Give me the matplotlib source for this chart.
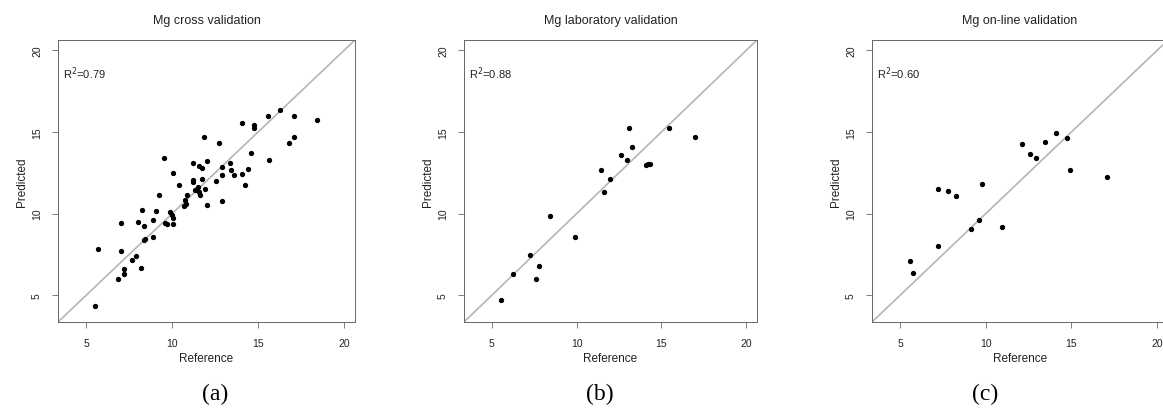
"""Mg validation: predicted vs reference scatter for three validation sets."""

import matplotlib.pyplot as plt

# (a) cross validation
cross_ref = [5.49, 5.68, 6.85, 7.18, 7.18, 7.05, 7.01, 7.69, 7.88, 8.2, 8.02, 8.22,
             8.37, 8.37, 8.41, 8.9, 8.9, 9.05, 9.23, 9.54, 9.58, 9.68, 9.87, 9.97,
             10.07, 10.07, 10.07, 10.4, 10.69, 10.75, 10.81, 10.85, 11.2, 11.24,
             11.24, 11.34, 11.43, 11.53, 11.59, 11.63, 11.59, 11.73, 11.73, 11.86,
             11.92, 12.02, 12.02, 12.54, 12.7, 12.89, 12.89, 12.89, 13.38, 13.42,
             13.58, 14.06, 14.06, 14.26, 14.4, 14.59, 14.75, 14.75, 15.58, 15.62,
             16.27, 16.79, 17.12, 17.12, 18.41]
cross_pred = [4.32, 7.86, 5.98, 6.28, 6.63, 7.72, 9.45, 7.16, 7.41, 6.69, 9.49, 10.25,
              9.23, 8.41, 8.47, 8.57, 9.64, 10.15, 11.17, 13.44, 9.45, 9.39, 10.09, 9.9,
              9.74, 9.39, 12.5, 11.74, 10.46, 10.82, 10.62, 11.13, 13.11, 12.09,
              11.95, 11.44, 11.54, 11.64, 11.34, 11.13, 12.91, 12.81, 12.15, 14.71,
              11.5, 13.21, 10.52, 12.01, 14.3, 12.87, 12.36, 10.76, 13.08, 12.66,
              12.36, 12.42, 15.57, 11.74, 12.76, 13.72, 15.43, 15.27, 16.0, 13.28,
              16.35, 14.3, 16.0, 14.67, 15.73]

# (b) laboratory validation
lab_ref = [5.55, 6.27, 7.24, 7.59, 7.77, 8.45, 9.93, 11.43, 11.59, 11.96, 12.62,
           12.95, 13.11, 13.28, 14.12, 14.22, 14.32, 15.47, 16.99]
lab_pred = [4.73, 6.29, 7.45, 6.02, 6.8, 9.87, 8.56, 12.67, 11.3, 12.14, 13.57,
            13.3, 15.22, 14.06, 13.0, 13.04, 13.06, 15.27, 14.71]

# (c) on-line validation
online_ref = [5.58, 5.74, 7.23, 7.23, 7.78, 8.26, 9.12, 9.6, 9.8, 10.92, 12.09,
              12.61, 12.96, 13.45, 14.13, 14.77, 14.94, 17.1]
online_pred = [7.11, 6.37, 8.03, 11.5, 11.38, 11.09, 9.03, 9.6, 11.81, 9.19, 14.24,
               13.65, 13.43, 14.37, 14.92, 14.61, 12.65, 12.22]

titles = ["Mg cross validation", "Mg laboratory validation", "Mg on-line validation"]
r2_labels = ["0.79", "0.88", "0.60"]
panel_labels = ["(a)", "(b)", "(c)"]
ticks = [5, 10, 15, 20]

plt.rcParams["font.family"] = ["Liberation Sans", "DejaVu Sans"]
TXT = "#222222"

fig = plt.figure(figsize=(11.63, 4.10), dpi=100)
W, H = 1163.0, 410.0
boxes = [(58, 297), (464, 293), (872, 296)]  # left px, width px
top_px, bot_px = 41, 323

datasets = [(cross_ref, cross_pred), (lab_ref, lab_pred), (online_ref, online_pred)]

for i, ((x, y), (left, width)) in enumerate(zip(datasets, boxes)):
    ax = fig.add_axes([left / W, (H - bot_px) / H, width / W, (bot_px - top_px) / H])
    lo, hi = 4 - 0.64, 20 + 0.64
    ax.set_xlim(lo, hi)
    ax.set_ylim(lo, hi)
    ax.axline((0, 0), slope=1, color="#b5b5b5", linewidth=1.2, zorder=1)
    ax.plot(x, y, "o", color="black", markersize=2.8, zorder=2)

    ax.set_xticks(ticks)
    ax.set_yticks(ticks)
    ax.tick_params(direction="out", length=4.5, width=0.6, colors="#666666",
                   labelcolor=TXT, labelsize=7.5, pad=7)
    for lab in ax.get_yticklabels():
        lab.set_rotation(90)
        lab.set_va("center")
    for s in ax.spines.values():
        s.set_color("#666666")
        s.set_linewidth(0.7)

    ax.set_title(titles[i], fontsize=9, color=TXT, pad=12)
    ax.set_xlabel("Reference", fontsize=8.5, color=TXT, labelpad=3)
    ax.set_ylabel("Predicted", fontsize=8.5, color=TXT, labelpad=3)
    ax.text(0.017, 0.883, r"R$^2$=" + r2_labels[i], transform=ax.transAxes,
            fontsize=8, color=TXT, va="center", ha="left")

for lab, xc in zip(panel_labels, [215, 600, 985]):
    fig.text(xc / W, (H - 394) / H, lab, fontsize=17, ha="center", va="center",
             family=["Liberation Serif", "DejaVu Serif"], color="black")

plt.savefig("out.png", dpi=100)
